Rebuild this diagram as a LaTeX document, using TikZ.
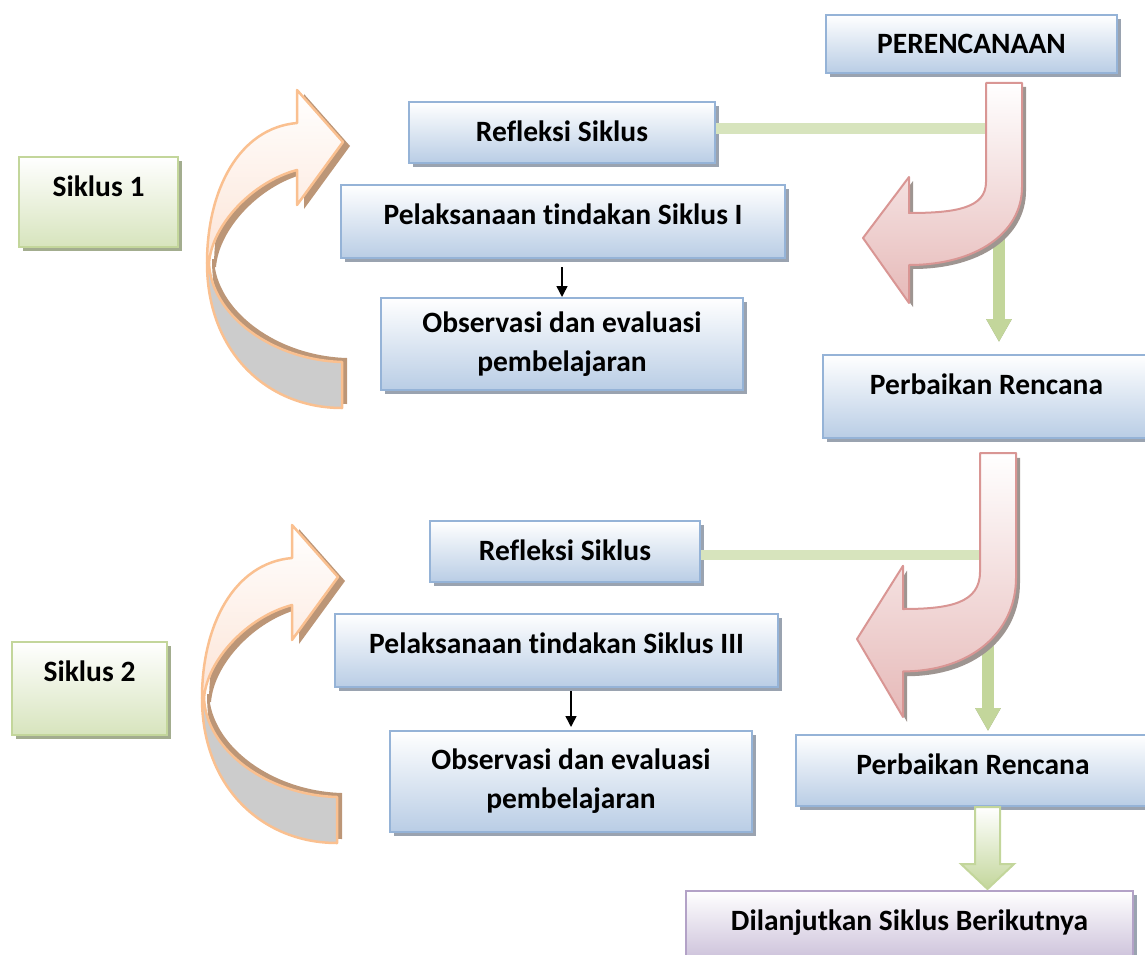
\documentclass[tikz,border=0pt]{standalone}
\usepackage{fontspec}
\setmainfont{Carlito}[Ligatures=NoCommon]
\usetikzlibrary{positioning,arrows.meta,shadows,calc}

\definecolor{boxline}{HTML}{95B3D7}
\definecolor{boxbot}{HTML}{B9CDE5}
\definecolor{boxshade}{HTML}{9AA3B0}
\definecolor{sikline}{HTML}{C3D69B}
\definecolor{sikbot}{HTML}{D7E4BD}
\definecolor{sikshade}{HTML}{A3AD8F}
\definecolor{nextline}{HTML}{B3A2C7}
\definecolor{nextbot}{HTML}{CCC1DA}
\definecolor{turnline}{HTML}{D99694}
\definecolor{turnbot}{HTML}{E6B9B8}
\definecolor{turnshade}{HTML}{9E9591}
\definecolor{curveline}{HTML}{FAC090}
\definecolor{curvetop}{HTML}{FCE4D6}
\definecolor{curveback}{HTML}{CCCCCC}
\definecolor{curveshade}{HTML}{BC9677}
\definecolor{linkgreen}{HTML}{C3D69B}
\definecolor{linkshade}{HTML}{8F9E72}

% shapes of the big arrows, in pixel units
\newcommand\turnpath{(0,0) -- (0,99) .. controls (0,125) and (-30,130) .. (-77,130) -- (-77,94) -- (-123,155) -- (-77,220) -- (-77,182) .. controls (-10,182) and (36,150) .. (36,104) -- (36,0) -- cycle}
\newcommand\curvefront{(0,33) -- (0,0) -- (46,52) -- (0,115) -- (0,80) .. controls (-45,92) and (-85,135) .. (-88,173) -- (-90,173) .. controls (-90,100) and (-58,38) .. (0,33) -- cycle}
\newcommand\curveback{(-90,173) .. controls (-90,262) and (-30,318) .. (45,318) -- (45,272) .. controls (-25,270) and (-86,225) .. (-88,173) -- cycle}

\tikzset{
  box/.style={draw=boxline, line width=2pt, top color=white, bottom color=boxbot,
    font=\bfseries\fontsize{29.5}{39}\selectfont, align=center, inner sep=0pt,
    drop shadow={shadow xshift=4pt, shadow yshift=-4pt, fill=boxshade, opacity=1}},
  tbox/.style={box, text height=39pt, text depth=#1},
  sbox/.style={tbox=#1, draw=sikline, bottom color=sikbot,
    drop shadow={shadow xshift=4pt, shadow yshift=-4pt, fill=sikshade, opacity=1}},
  nbox/.style={tbox=#1, draw=nextline, bottom color=nextbot},
  bar/.style={draw=sikbot, line width=11pt},
  down/.style={line width=1.5pt, -{Triangle[length=11pt,width=11pt]}},
  link/.style={draw=linkgreen, line width=12pt, -{Triangle[length=23pt,width=24pt]}},
  turn/.style={draw=turnline, line width=2pt, line join=round, top color=white, bottom color=turnbot},
  curve/.style={draw=curveline, line width=2.5pt, line join=round}
}

\begin{document}
\begin{tikzpicture}[x=1pt,y=-1pt]
  \useasboundingbox (0,0) rectangle (1145,955);

  % boxes
  \node[tbox=19pt, minimum width=291pt] (plan) at (971.5,44) {PERENCANAAN};
  \node[tbox=22pt, minimum width=306pt] (ref1) at (562,132.5) {Refleksi Siklus};
  \node[sbox=51pt, minimum width=159pt] (sik1) at (98.5,202) {Siklus 1};
  \node[tbox=34pt, minimum width=444pt] (pel1) at (563,221.5) {Pelaksanaan tindakan Siklus I};
  \node[box, minimum width=362pt, minimum height=92pt] (obs1) at (562,344) {Observasi dan evaluasi\\pembelajaran};
  \node[tbox=44pt, minimum width=327pt] (perb1) at (986.5,396.5) {Perbaikan Rencana};

  \node[tbox=22pt, minimum width=270pt] (ref2) at (565,551.5) {Refleksi Siklus};
  \node[sbox=54pt, minimum width=155pt] (sik2) at (89.5,688.5) {Siklus 2};
  \node[tbox=34pt, minimum width=443pt] (pel2) at (556.5,650.5) {Pelaksanaan tindakan Siklus III};
  \node[box, minimum width=362pt, minimum height=101pt] (obs2) at (571,781.5) {Observasi dan evaluasi\\pembelajaran};
  \node[tbox=32pt, minimum width=354pt] (perb2) at (973,770.5) {Perbaikan Rencana};
  \node[nbox=30pt, minimum width=447pt] (next) at (909.5,925.5) {Dilanjutkan Siklus Berikutnya};

  % small arrows
  \draw[down] ([yshift=-8pt]pel1.south -| obs1.north) -- (obs1.north);
  \draw[down] ([yshift=-3pt]pel2.south -| obs2.north) -- ([yshift=3pt]obs2.north);

  % green bars and drops behind the turn arrows
  \coordinate (turn1) at (992,129);
  \coordinate (turn2) at (985,555);
  \coordinate (drop1) at (999,225);
  \coordinate (drop2) at (988,620);
  \draw[bar] (turn1) -- (turn1 -| ref1.east);
  \draw[bar, line width=10pt] (turn2) -- (turn2 -| ref2.east);
  \draw[link, draw=linkshade, xshift=5pt, yshift=-3pt, shorten >=12pt] (drop1) -- (drop1 |- perb1.north);
  \draw[link, shorten >=12pt] (drop1) -- (drop1 |- perb1.north);
  \draw[link, draw=linkshade, xshift=5pt, yshift=-3pt, shorten >=3pt] (drop2) -- (drop2 |- perb2.north);
  \draw[link, shorten >=3pt] (drop2) -- (drop2 |- perb2.north);

  % turn arrows
  \begin{scope}[shift={(986,83)}]
    \fill[turnshade, xshift=4pt, yshift=-4pt] \turnpath;
    \draw[turn] \turnpath;
  \end{scope}
  \begin{scope}[shift={(980,453)}, yscale=1.2]
    \fill[turnshade, xshift=4pt, yshift=-4pt] \turnpath;
    \draw[turn] \turnpath;
  \end{scope}

  % last drop
  \filldraw[draw=linkgreen, line width=2pt, top color=white, bottom color=linkgreen]
    ([xshift=2pt]perb2.south) -- ++(0,57) -- ++(-14,0) -- ++(26.5,25) -- ++(26.5,-25)
    -- ++(-14,0) -- ([xshift=27pt]perb2.south) -- cycle;

  % curved arrows
  \foreach \cx/\cy in {297/90, 292/525} {
    \begin{scope}[shift={(\cx,\cy)}]
      \fill[curveshade, xshift=7pt, yshift=-4pt] \curvefront;
      \fill[curveshade, xshift=5pt, yshift=4pt] \curveback;
      \filldraw[curve, fill=curveback] \curveback;
      \draw[curve, top color=white, bottom color=curvetop] \curvefront;
    \end{scope}
  }
\end{tikzpicture}
\end{document}
